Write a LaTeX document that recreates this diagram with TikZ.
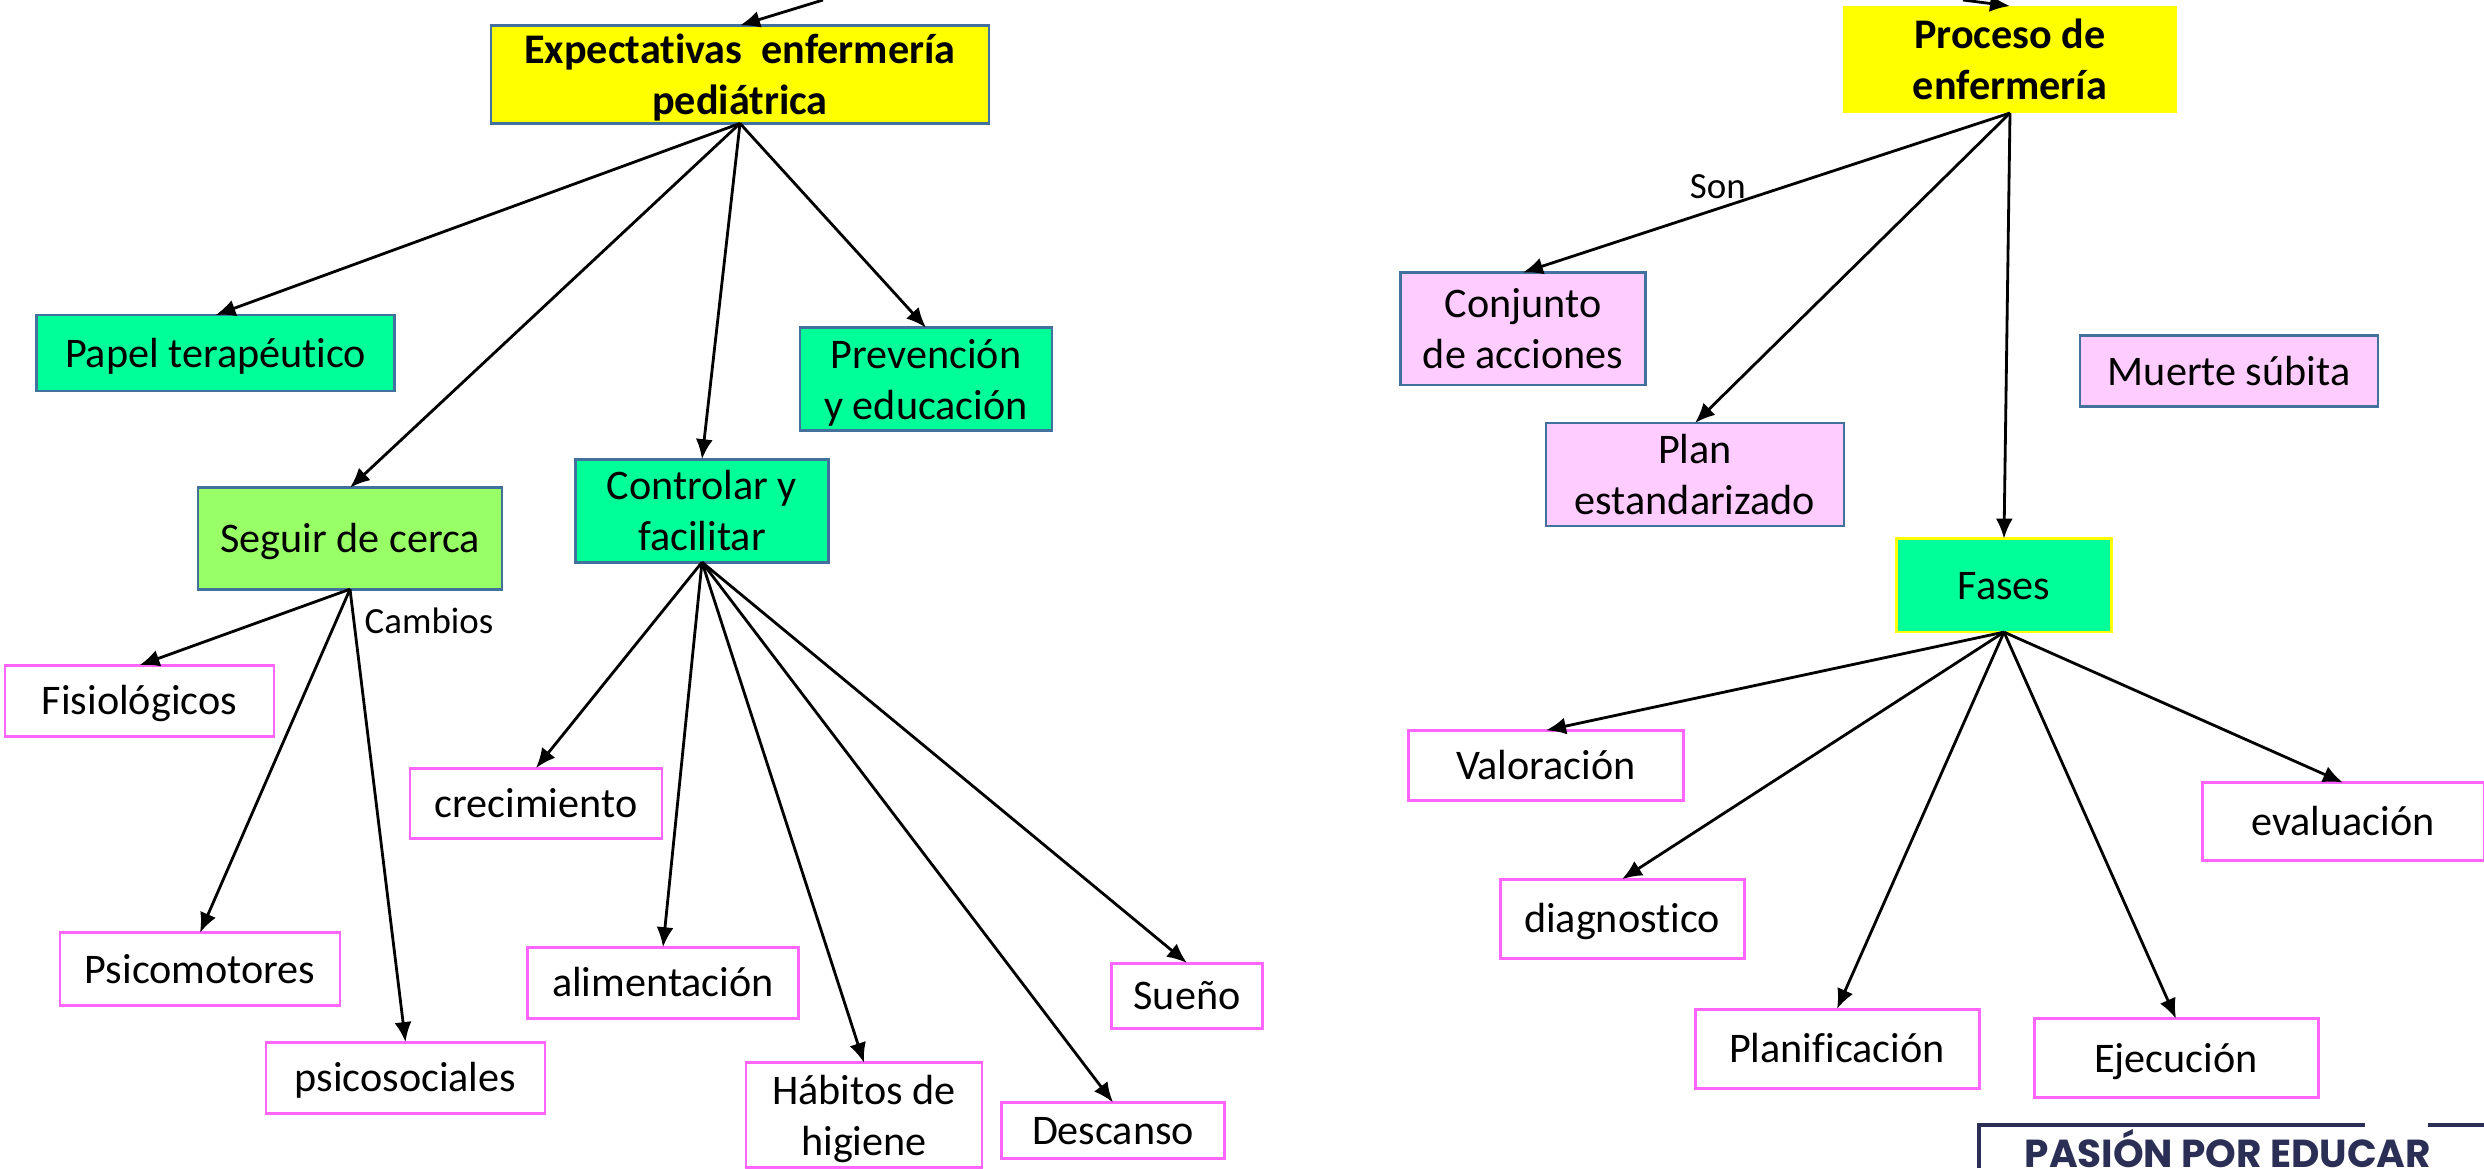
\documentclass[tikz,border=0pt]{standalone}
\usepackage{fontspec}
\setmainfont{Carlito}[Ligatures=NoCommon]
\newfontfamily\logofont{Poppins}
\usetikzlibrary{positioning, calc, arrows.meta}
\definecolor{borderblue}{HTML}{41719C}
\definecolor{leafmagenta}{HTML}{FF66FF}
\definecolor{logonavy}{HTML}{2B2F55}
\definecolor{titleyellow}{HTML}{FFFF00}
\definecolor{boxgreen}{HTML}{00FF99}
\definecolor{boxlime}{HTML}{99FF66}
\definecolor{boxpink}{HTML}{FFCCFF}
\newcommand{\boxend}{\rule[-4pt]{0pt}{4pt}}
\begin{document}
\begin{tikzpicture}[
          node distance=1.5cm,
          basebox/.style={
              rectangle, align=center, inner sep=0pt, outer sep=0pt,
              font=\fontsize{12}{14.4}\selectfont,
              execute at begin node={\rule{0pt}{12pt}},
              execute at end node={\boxend}
          },
          twolines/.code={\renewcommand{\boxend}{}},
          titlebox/.style={
              basebox, fill=titleyellow, font=\fontsize{12}{14.4}\selectfont\bfseries
          },
          greenbox/.style={basebox, draw=borderblue, line width=.75pt, fill=boxgreen},
          limebox/.style={basebox, draw=borderblue, line width=.75pt, fill=boxlime},
          pinkbox/.style={basebox, draw=borderblue, line width=.75pt, fill=boxpink},
          leafbox/.style={basebox, draw=leafmagenta, line width=.85pt, fill=white},
          size/.style 2 args={minimum width=#1cm, minimum height=#2cm},
          edgelabel/.style={inner sep=0pt, font=\fontsize{10.5}{12}\selectfont},
          link/.style={line width=.8pt, ->},
          >={Latex[length=2mm,width=1.7mm]},
      ]
          \useasboundingbox (0,0) rectangle (24.84,-11.68);

          % Left tree
          \node [titlebox, twolines, draw=borderblue, line width=.75pt, size={4.98}{.98}] (expect) at (7.40,-.744) {Expectativas\ \ enfermería\\\smash{pediátrica}};
          \node [greenbox, size={3.58}{.76}, below=1.917cm of expect, xshift=-5.245cm] (papel) {Papel terapéutico};
          \node [greenbox, twolines, size={2.52}{1.03}, below=2.043cm of expect, xshift=1.86cm] (prevencion) {Prevención\\\smash{y educación}};
          \node [limebox, size={3.04}{1.015}, below=3.643cm of expect, xshift=-3.90cm] (seguir) {Seguir de cerca};
          \node [greenbox, twolines, size={2.535}{1.03}, below=3.358cm of expect, xshift=-.38cm] (controlar) {Controlar y\\facilitar};

          % Leaves of seguir
          \node [leafbox, size={2.69}{.71}, below=.76cm of seguir, xshift=-2.105cm] (fisio) {Fisiológicos};
          \node [leafbox, size={2.80}{.73}, below=3.436cm of seguir, xshift=-1.50cm] (psicomotores) {Psicomotores};
          \node [leafbox, size={2.79}{.71}, below=4.529cm of seguir, xshift=.555cm] (psicosociales) {psicosociales};

          % Leaves of controlar
          \node [leafbox, size={2.52}{.70}, below=2.059cm of controlar, xshift=-1.66cm] (crecimiento) {crecimiento};
          \node [leafbox, size={2.71}{.71}, below=3.85cm of controlar, xshift=-.39cm] (alimentacion) {alimentación};
          \node [leafbox, twolines, size={2.36}{1.05}, below=5.006cm of controlar, xshift=1.62cm] (habitos) {Hábitos de\\\smash{higiene}};
          \node [leafbox, size={2.23}{.55}, below=5.402cm of controlar, xshift=4.11cm] (descanso) {Descanso};
          \node [leafbox, size={1.505}{.65}, below=4.008cm of controlar, xshift=4.85cm] (sueno) {Sueño};

          % Right tree
          \node [titlebox, twolines, size={3.34}{1.07}] (proceso) at (20.10,-.595) {Proceso de\\enfermería};
          \node [pinkbox, twolines, size={2.455}{1.125}, below=1.595cm of proceso, xshift=-4.87cm] (conjunto) {Conjunto\\de acciones};
          \node [pinkbox, twolines, size={2.98}{1.03}, below=3.10cm of proceso, xshift=-3.15cm] (plan) {Plan\\estandarizado};
          \node [pinkbox, size={2.98}{.71}, below=2.228cm of proceso, xshift=2.19cm] (muerte) {Muerte súbita};
          \node [greenbox, draw=titleyellow, size={2.155}{.935}, below=4.256cm of proceso, xshift=-.06cm] (fases) {Fases};

          % Leaves of fases
          \node [leafbox, size={2.756}{.70}, below=.982cm of fases, xshift=-4.58cm] (valoracion) {Valoración};
          \node [leafbox, size={2.82}{.775}, below=1.505cm of fases, xshift=3.39cm] (evaluacion) {evaluación};
          \node [leafbox, size={2.44}{.79}, below=2.471cm of fases, xshift=-3.82cm] (diagnostico) {diagnostico};
          \node [leafbox, size={2.84}{.79}, below=3.769cm of fases, xshift=-1.67cm] (planificacion) {Planificación};
          \node [leafbox, size={2.84}{.79}, below=3.865cm of fases, xshift=1.72cm] (ejecucion) {Ejecución};

          % Arrows
          \coordinate (expectin) at (8.23,0);
          \coordinate (procesoin) at (19.63,0);
          \draw [link] (expectin) -- (expect.north);
          \draw [link] (procesoin) -- (proceso.north);

          \foreach \leaf in {papel, seguir, controlar, prevencion}
              \draw [link] (expect.south) -- (\leaf.north);
          \foreach \leaf in {fisio, psicomotores, psicosociales}
              \draw [link] (seguir.south) -- (\leaf.north);
          \foreach \leaf in {crecimiento, alimentacion, habitos, descanso, sueno}
              \draw [link] (controlar.south) -- (\leaf.north);
          \draw [link] (proceso.south) -- node[pos=.6, above, edgelabel, yshift=2.5pt] (son) {Son} (conjunto.north);
          \foreach \leaf in {plan, fases}
              \draw [link] (proceso.south) -- (\leaf.north);
          \foreach \leaf in {valoracion, diagnostico, planificacion, ejecucion, evaluacion}
              \draw [link] (fases.south) -- (\leaf.north);

          \node [edgelabel, right=.14cm of seguir.south, yshift=-.315cm] (cambios) {Cambios};

          % Logo corner
          \node [inner sep=0pt, anchor=base west, text=logonavy, font=\logofont\bfseries\fontsize{11.1}{13}\selectfont] (logo) at (20.24,-11.67) {PASIÓN POR EDUCAR};
          \draw [logonavy, line width=1.1pt] (19.79,-11.68) |- (23.65,-11.25);
          \draw [logonavy, line width=1.1pt] (24.28,-11.25) -- (24.84,-11.25);
\end{tikzpicture}
\end{document}
